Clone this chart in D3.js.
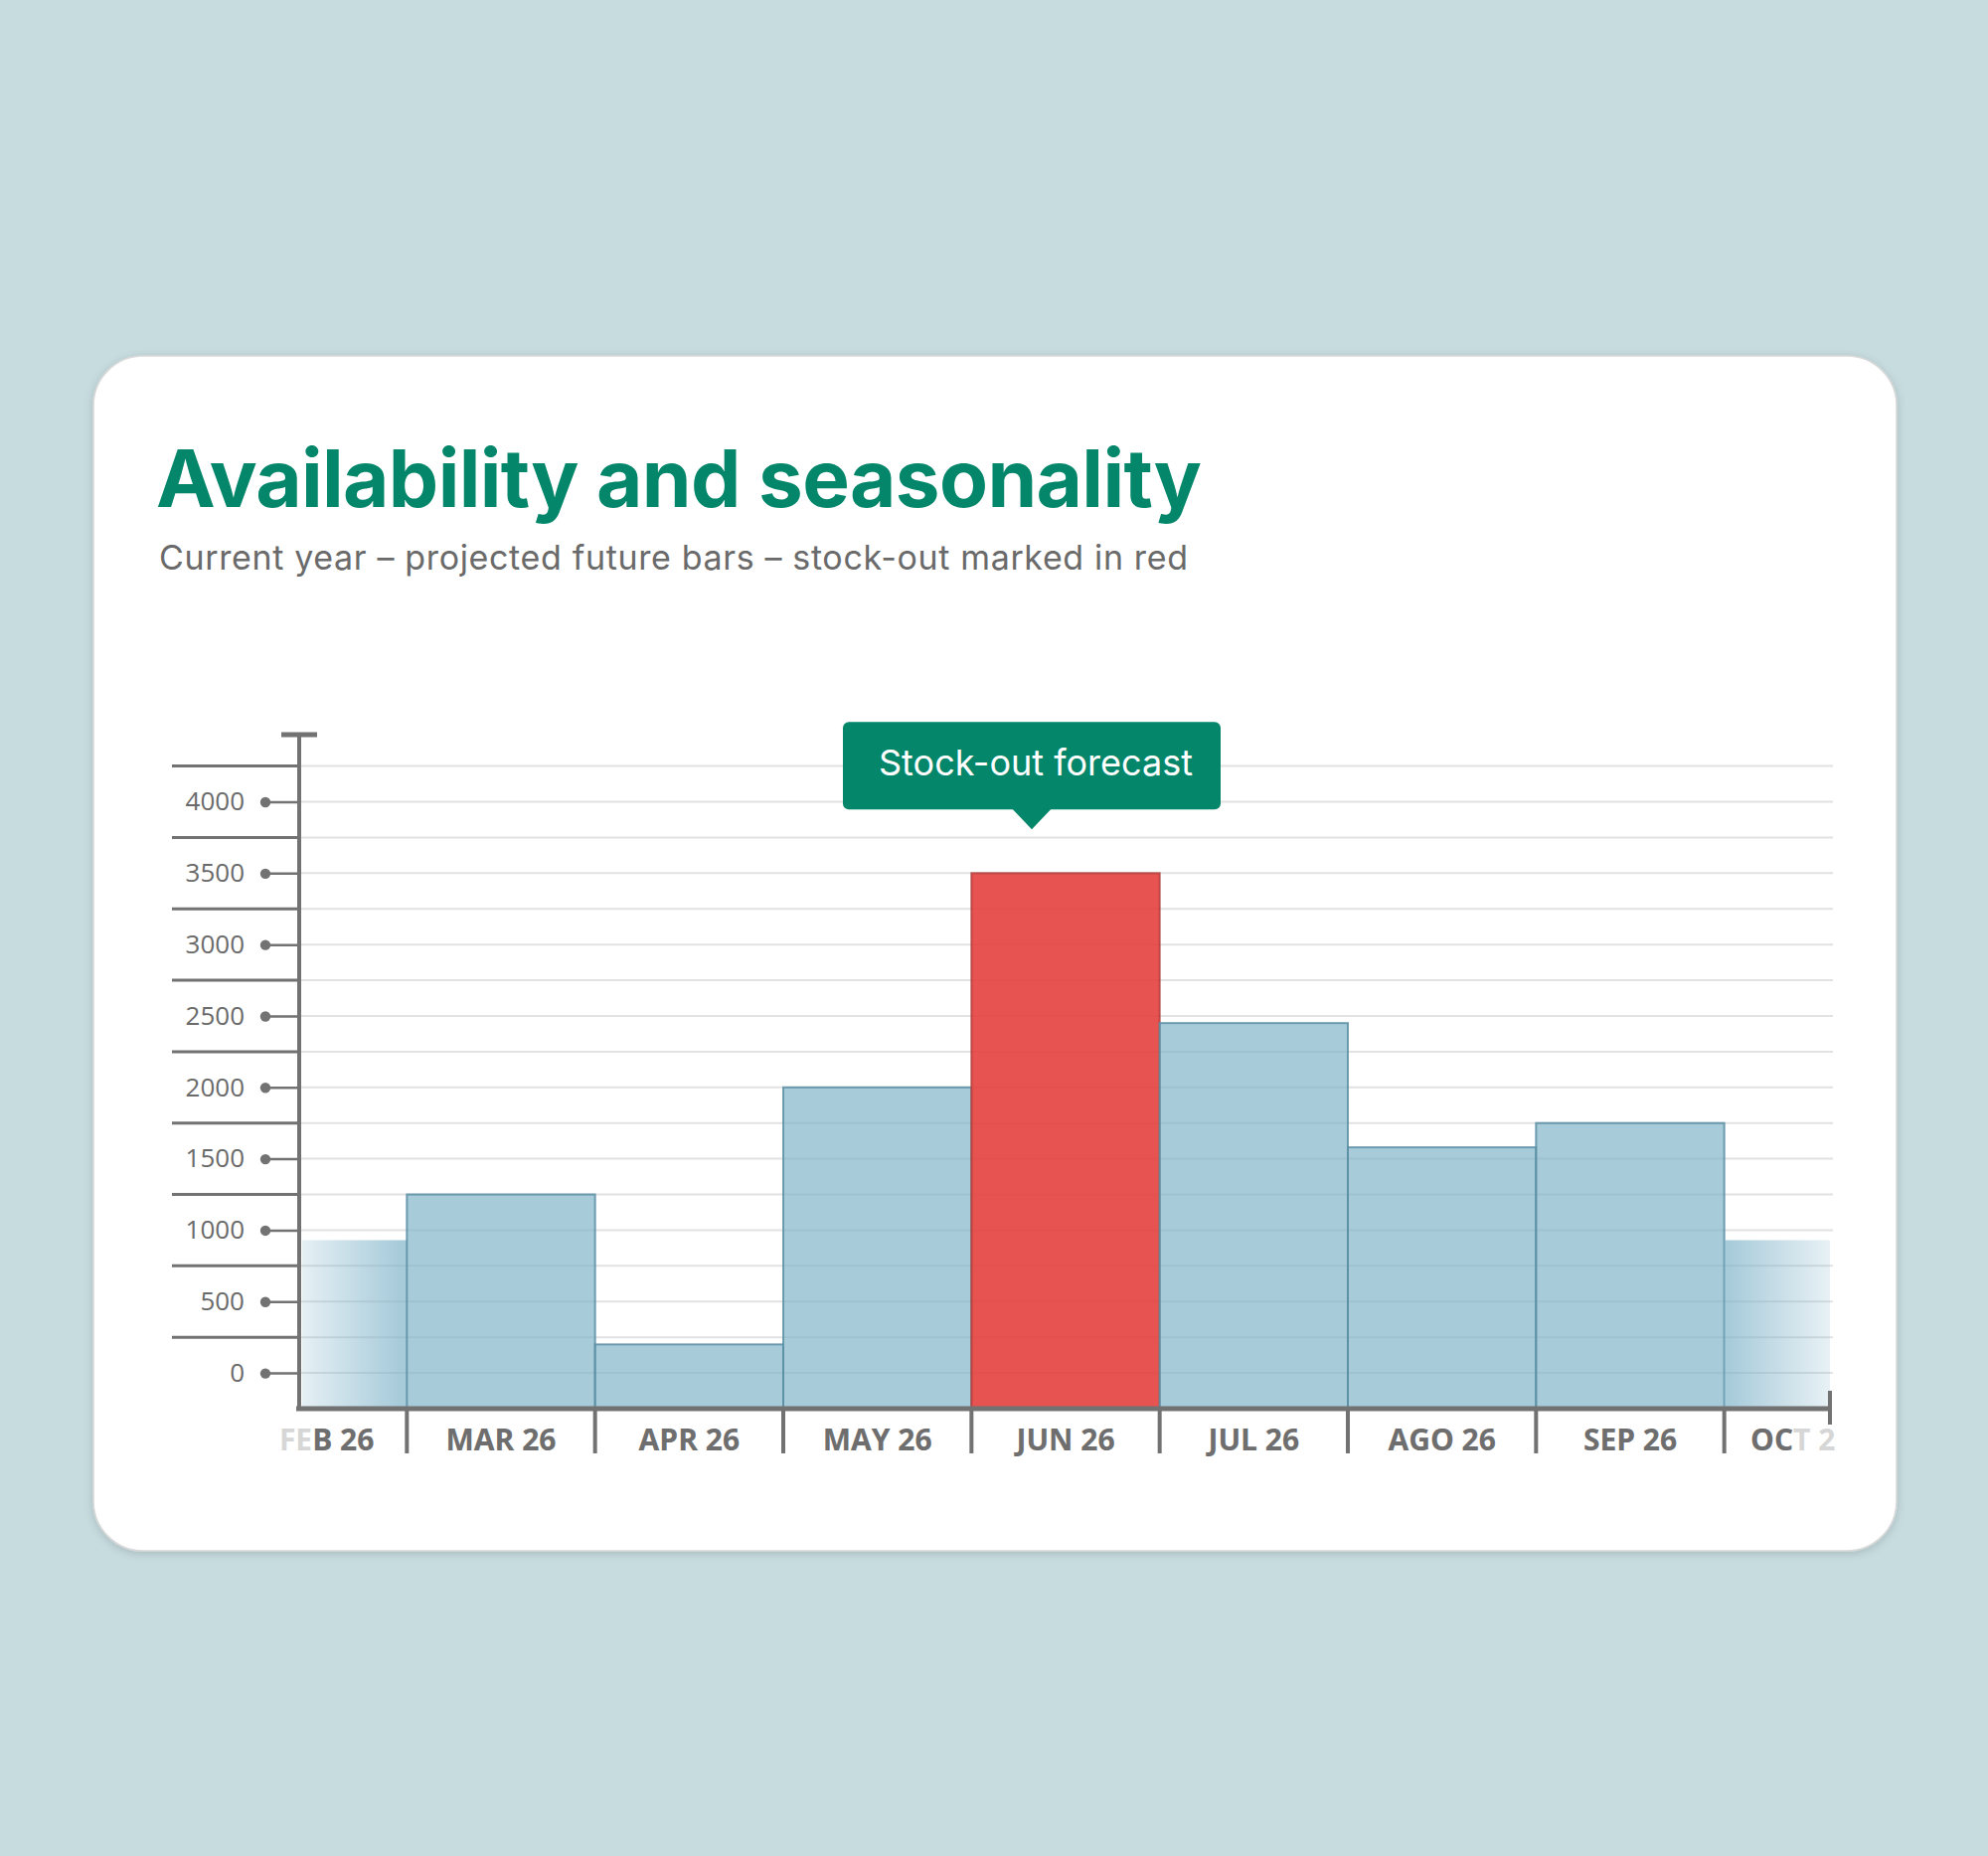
<!DOCTYPE html>
<html>
<head>
<meta charset="utf-8">
<script src="https://cdn.jsdelivr.net/npm/d3@7"></script>
<style>
html, body { margin: 0; padding: 0; background: #c7dcdf; }
svg { display: block; }
</style>
</head>
<body>
<div id="chart"></div>
<script>
// units per month, window scrolled so FEB and OCT are only half shown
const months = ['FEB 26', 'MAR 26', 'APR 26', 'MAY 26', 'JUN 26', 'JUL 26', 'AGO 26', 'SEP 26', 'OCT 26'];
const units = [930, 1250, 200, 2000, 3500, 2450, 1580, 1750, 930];
const stockOutMonths = ['JUN 26'];
const yTicks = [0, 500, 1000, 1500, 2000, 2500, 3000, 3500, 4000];
const yFloor = -250, yCeil = 4470;

const titleText = 'Availability and seasonality';
const subtitleText = 'Current year – projected future bars – stock-out marked in red';
const calloutText = 'Stock-out forecast';

const W = 2000, H = 1867;
const card = {x: 94, y: 358, w: 1814, h: 1202, r: 50};
const plot = {l: 301, r: 1841, t: 739, b: 1417};

const green = '#03866a';
const axisGrey = '#727272';
const barBase = '#7fb3c9';

const svg = d3.select('#chart').append('svg')
	.attr('width', W)
	.attr('height', H);
const defs = svg.append('defs');

//card with soft shadow
const shadow = defs.append('filter').attr('id', 'shadow')
	.attr('x', '-5%').attr('y', '-5%').attr('width', '110%').attr('height', '110%');
shadow.append('feDropShadow')
	.attr('dx', 0).attr('dy', 2).attr('stdDeviation', 4)
	.attr('flood-color', '#000').attr('flood-opacity', 0.16);

svg.append('rect')
	.attr('x', card.x).attr('y', card.y)
	.attr('width', card.w).attr('height', card.h)
	.attr('rx', card.r)
	.attr('fill', '#fff')
	.attr('stroke', '#d8d8d8')
	.attr('stroke-width', 1.5)
	.attr('filter', 'url(#shadow)');

//squeeze/stretch letter spacing so a text hits the width seen in the picture
function fitTo(sel, target){
	const n = sel.text().length;
	const w = sel.node().getComputedTextLength();
	sel.attr('letter-spacing', (target - w) / (n - 1));
}

const title = svg.append('text')
	.attr('x', 157).attr('y', 510)
	.attr('font-family', 'Inter, sans-serif')
	.attr('font-weight', 700)
	.attr('font-size', 80)
	.attr('fill', green)
	.text(titleText);
fitTo(title, 1052);

const subtitle = svg.append('text')
	.attr('x', 160).attr('y', 573)
	.attr('font-family', 'Inter, sans-serif')
	.attr('font-size', 34)
	.attr('fill', '#6a6a6a')
	.text(subtitleText);
fitTo(subtitle, 1035);

//scales
const x = d3.scaleBand()
	.domain(months)
	.range([220, 1924])
	.paddingInner(0).paddingOuter(0);

const y = d3.scaleLinear()
	.domain([yFloor, yCeil])
	.range([plot.b, plot.t]);

//grid every 250
svg.append('g').attr('class', 'grid')
	.selectAll('line')
	.data(d3.range(0, 4251, 250))
	.join('line')
	.attr('x1', plot.l).attr('x2', 1844)
	.attr('y1', d => y(d)).attr('y2', d => y(d))
	.attr('stroke', '#e2e2e2')
	.attr('stroke-width', 2);

//dark separators left of the axis, between tick values
svg.append('g')
	.selectAll('line')
	.data(d3.range(250, 4251, 500))
	.join('line')
	.attr('x1', 173).attr('x2', plot.l)
	.attr('y1', d => y(d)).attr('y2', d => y(d))
	.attr('stroke', axisGrey)
	.attr('stroke-width', 3);

//bars
defs.append('clipPath').attr('id', 'plotClip')
	.append('rect')
	.attr('x', plot.l + 3).attr('y', 0)
	.attr('width', plot.r - plot.l - 3).attr('height', H);

const fadeIn = defs.append('linearGradient').attr('id', 'fadeIn')
	.attr('gradientUnits', 'userSpaceOnUse')
	.attr('x1', plot.l + 3).attr('x2', x(months[1]))
	.attr('y1', 0).attr('y2', 0);
fadeIn.append('stop').attr('offset', 0).attr('stop-color', barBase).attr('stop-opacity', 0.2);
fadeIn.append('stop').attr('offset', 0.92).attr('stop-color', barBase).attr('stop-opacity', 0.68);

const fadeOut = defs.append('linearGradient').attr('id', 'fadeOut')
	.attr('gradientUnits', 'userSpaceOnUse')
	.attr('x1', x(months[months.length - 1])).attr('x2', plot.r)
	.attr('y1', 0).attr('y2', 0);
fadeOut.append('stop').attr('offset', 0.05).attr('stop-color', barBase).attr('stop-opacity', 0.68);
fadeOut.append('stop').attr('offset', 1).attr('stop-color', barBase).attr('stop-opacity', 0.18);

const barData = months.map((m, i) => ({month: m, value: units[i], i: i}));
const last = months.length - 1;

svg.append('g').attr('clip-path', 'url(#plotClip)')
	.selectAll('rect')
	.data(barData)
	.join('rect')
	.attr('x', d => x(d.month))
	.attr('width', x.bandwidth())
	.attr('y', d => y(d.value))
	.attr('height', d => y(yFloor) - y(d.value))
	.attr('fill', d => {
		if (d.i === 0) return 'url(#fadeIn)';
		if (d.i === last) return 'url(#fadeOut)';
		return stockOutMonths.includes(d.month) ? '#e4403d' : barBase;
	})
	.attr('fill-opacity', d => (d.i === 0 || d.i === last) ? 1 : (stockOutMonths.includes(d.month) ? 0.9 : 0.68))
	.attr('stroke', d => (d.i === 0 || d.i === last) ? 'none' : (stockOutMonths.includes(d.month) ? '#b2403d' : '#5b8fa3'))
	.attr('stroke-opacity', 0.85)
	.attr('stroke-width', 2);

//y axis: ticks with a dot at the end
const yAxis = d3.axisLeft(y)
	.tickValues(yTicks)
	.tickFormat(d3.format('d'))
	.tickSize(34)
	.tickPadding(21);

const yG = svg.append('g')
	.attr('transform', `translate(${plot.l}, 0)`)
	.call(yAxis);
yG.select('.domain').remove();
yG.selectAll('.tick line')
	.attr('stroke', axisGrey)
	.attr('stroke-width', 2.5);
yG.selectAll('.tick').append('circle')
	.attr('cx', -34).attr('r', 5.2)
	.attr('fill', axisGrey);
yG.selectAll('.tick text')
	.attr('font-family', '"Open Sans", sans-serif')
	.attr('font-size', 26)
	.attr('fill', '#6a6a6a');

//axis lines with end caps
svg.append('line')
	.attr('x1', plot.l).attr('x2', plot.l)
	.attr('y1', plot.t).attr('y2', plot.b + 2)
	.attr('stroke', axisGrey).attr('stroke-width', 4);
svg.append('line')
	.attr('x1', plot.l - 18).attr('x2', plot.l + 18)
	.attr('y1', plot.t).attr('y2', plot.t)
	.attr('stroke', axisGrey).attr('stroke-width', 5);
svg.append('line')
	.attr('x1', plot.l - 3).attr('x2', plot.r + 1)
	.attr('y1', plot.b).attr('y2', plot.b)
	.attr('stroke', axisGrey).attr('stroke-width', 5);
svg.append('line')
	.attr('x1', plot.r).attr('x2', plot.r)
	.attr('y1', plot.b - 18).attr('y2', plot.b + 16)
	.attr('stroke', axisGrey).attr('stroke-width', 4);

//month separators on the x axis
svg.append('g')
	.selectAll('line')
	.data(months.slice(1))
	.join('line')
	.attr('x1', d => x(d)).attr('x2', d => x(d))
	.attr('y1', plot.b).attr('y2', plot.b + 45)
	.attr('stroke', axisGrey)
	.attr('stroke-width', 4);

//x labels: a faded copy underneath, the dark copy clipped to the middle
const xAxis = d3.axisBottom(x).tickSize(0).tickPadding(21);

defs.append('clipPath').attr('id', 'labelAll')
	.append('rect').attr('x', 200).attr('y', -20).attr('width', 1847 - 200).attr('height', 120);
defs.append('clipPath').attr('id', 'labelDark')
	.append('rect').attr('x', 313).attr('y', -20).attr('width', 1804 - 313).attr('height', 120);

function drawLabels(clipId, colour){
	const g = svg.append('g')
		.attr('transform', `translate(0, ${plot.b})`)
		.call(xAxis);
	g.select('.domain').remove();
	g.attr('clip-path', `url(#${clipId})`);
	g.selectAll('.tick text')
		.attr('x', (d, i) => i === 0 ? 14 : (i === last ? -17 : 0))
		.attr('font-family', '"Open Sans", sans-serif')
		.attr('font-weight', 700)
		.attr('font-size', 30)
		.attr('fill', colour);
}
drawLabels('labelAll', '#d6d6d6');
drawLabels('labelDark', '#6e6e6e');

//callout over the stock-out bar
stockOutMonths.forEach(function(m){
	const v = units[months.indexOf(m)];
	const tipX = x(m) + x.bandwidth() / 2 - 34;
	const tipY = y(v) - 44;

	const callout = svg.append('g')
		.attr('transform', `translate(${tipX}, ${tipY})`);

	callout.append('rect')
		.attr('x', -190).attr('y', -108)
		.attr('width', 380).attr('height', 88)
		.attr('rx', 6)
		.attr('fill', green);
	callout.append('path')
		.attr('d', 'M-20,-21 L0,0 L20,-21 Z')
		.attr('fill', green);

	const label = callout.append('text')
		.attr('x', 4).attr('y', -54)
		.attr('text-anchor', 'middle')
		.attr('font-family', 'Inter, sans-serif')
		.attr('font-size', 36)
		.attr('fill', '#fff')
		.text(calloutText);
	fitTo(label, 316);
});
</script>
</body>
</html>
